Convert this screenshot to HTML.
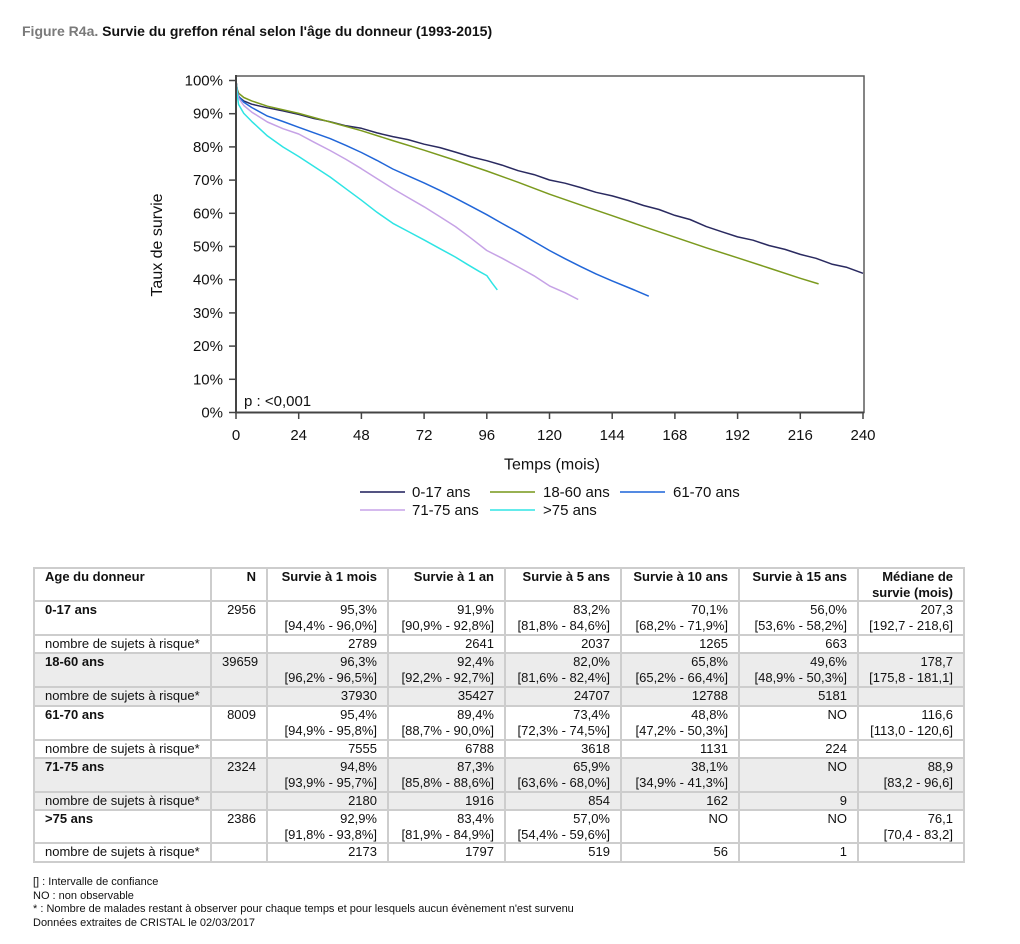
<!DOCTYPE html>
<html><head><meta charset="utf-8">
<style>
html,body{margin:0;padding:0;background:#fff;}
body{width:1020px;height:944px;position:relative;overflow:hidden;font-family:"Liberation Sans",Arial,sans-serif;color:#111;}
.title{position:absolute;left:22px;top:23px;font-size:14px;line-height:17px;font-weight:bold;white-space:nowrap;}
.title .fig{color:#7a7a7a;}
.tbl{position:absolute;left:33px;top:567px;display:grid;
 grid-template-columns:175px 54px 119px 115px 114px 116px 117px 104px;
 grid-template-rows:31px 32px 16px 32px 17px 32px 16px 32px 16px 31px 17px;
 gap:2px;padding:2px;background:#cdcdcd;}
.tbl div{background:#fff;font-size:13px;line-height:16px;padding:0 10px 0 10px;text-align:right;white-space:nowrap;overflow:hidden;}
.tbl div.l{text-align:left;}
.tbl div.b{font-weight:bold;}
.tbl div.g{background:#ececec;}
.notes{position:absolute;left:33px;top:876px;font-size:11px;line-height:13.7px;white-space:nowrap;}
</style></head><body>
<div class="title"><span class="fig">Figure R4a.</span> Survie du greffon rénal selon l'âge du donneur (1993-2015)</div>

<svg width="1020" height="530" style="position:absolute;left:0;top:0" xmlns="http://www.w3.org/2000/svg" font-family="Liberation Sans, Arial, sans-serif">
 <g fill="none" stroke-width="1.5" stroke-linejoin="round">
  <polyline stroke="#2a2a60" points="236,81 237.3,90.9 238.6,96.6 243.8,100.9 251.7,104.2 267.4,107.8 283,110.9 298.7,114.4 314,118.5 330.1,121.7 346,125.8 361.4,128.3 377,132.9 392.8,136.6 408,139.6 424.1,144.2 440,147.6 455.5,152.1 471,156.9 486.8,160.7 502,165.1 518.2,170.7 534,174.6 549.5,180 565,183.2 580.9,187.6 596,192.3 612.2,195.9 628,200.4 643.6,205.5 659,209.5 674.9,215.4 690,219.5 706.3,226.6 722,231.8 737.6,236.9 753,240.2 768.9,245.5 785,249.4 800.3,254.4 816,258.3 831.7,264.1 847,267.4 863,273.3"/>
  <polyline stroke="#7b9a1e" points="236,81 237.3,89.3 238.6,93.2 243.8,97.5 251.7,100.9 267.4,106.2 298.7,113.4 330.1,122 361.4,130.7 392.8,140.6 424.1,150.2 455.5,160.4 486.8,171 518.2,182.3 549.5,194.2 580.9,205.1 612.2,215.7 643.6,226.6 674.9,237.2 706.3,247.8 737.6,257.8 768.9,268 800.3,278.3 818.6,283.9"/>
  <polyline stroke="#2166d8" points="236,81 237.3,90.9 238.6,96.2 243.8,102.2 251.7,107.5 267.4,116.1 283,121.5 298.7,127.3 314,132.8 330.1,138.6 346,145.4 361.4,152.5 377,160.4 392.8,169 408,175.8 424.1,182.9 440,190.4 455.5,198.2 471,206.3 486.8,214.7 502,223.4 518.2,232.3 534,241.5 549.5,250.5 565,258.7 580.9,266.7 596,273.9 612.2,280.9 633.1,289.5 648.8,296.2"/>
  <polyline stroke="#c6a2e6" points="236,81 237.3,92.6 238.6,98.2 243.8,105.5 251.7,112.1 267.4,122 283,128.7 298.7,134 314,142.2 330.1,150.5 346,159.4 361.4,168.7 377,178.6 392.8,188.6 408,197.5 424.1,206.8 440,216.7 455.5,226.6 471,238.2 486.8,250.5 502,258.2 518.2,267 534,275.8 549.5,285.9 565.2,292.8 578.2,299.5"/>
  <polyline stroke="#2ee4e4" points="236,81 237.3,95.9 238.6,104.5 243.8,113.4 251.7,121.4 267.4,135.9 283,147 298.7,156.5 314,166.5 330.1,177 346,188.8 361.4,200.2 377,212.3 392.8,223.3 408,231.4 424.1,239.9 440,248.7 455.5,257.1 467,264.2 479,271.3 486.8,275.6 492,282.9 497.3,289.9"/>
 </g>
 <rect x="236" y="76" width="628" height="336.5" fill="none" stroke="#5c5c5c" stroke-width="1.5"/>
 <line x1="236" y1="75" x2="236" y2="413.5" stroke="#444" stroke-width="2"/>
 <line x1="235" y1="412.5" x2="864" y2="412.5" stroke="#444" stroke-width="2"/>
 <g stroke="#444" stroke-width="1.5">
  <line x1="229" y1="412.5" x2="236" y2="412.5"/>
  <line x1="229" y1="379.3" x2="236" y2="379.3"/>
  <line x1="229" y1="346.1" x2="236" y2="346.1"/>
  <line x1="229" y1="312.9" x2="236" y2="312.9"/>
  <line x1="229" y1="279.7" x2="236" y2="279.7"/>
  <line x1="229" y1="246.5" x2="236" y2="246.5"/>
  <line x1="229" y1="213.3" x2="236" y2="213.3"/>
  <line x1="229" y1="180.1" x2="236" y2="180.1"/>
  <line x1="229" y1="146.9" x2="236" y2="146.9"/>
  <line x1="229" y1="113.7" x2="236" y2="113.7"/>
  <line x1="229" y1="80.5" x2="236" y2="80.5"/>
  <line x1="236" y1="412.5" x2="236" y2="419"/>
  <line x1="298.7" y1="412.5" x2="298.7" y2="419"/>
  <line x1="361.4" y1="412.5" x2="361.4" y2="419"/>
  <line x1="424.1" y1="412.5" x2="424.1" y2="419"/>
  <line x1="486.8" y1="412.5" x2="486.8" y2="419"/>
  <line x1="549.5" y1="412.5" x2="549.5" y2="419"/>
  <line x1="612.2" y1="412.5" x2="612.2" y2="419"/>
  <line x1="674.9" y1="412.5" x2="674.9" y2="419"/>
  <line x1="737.6" y1="412.5" x2="737.6" y2="419"/>
  <line x1="800.3" y1="412.5" x2="800.3" y2="419"/>
  <line x1="863" y1="412.5" x2="863" y2="419"/>
 </g>
 <g font-size="15" fill="#111" text-anchor="end">
  <text x="223" y="417.5">0%</text>
  <text x="223" y="384.3">10%</text>
  <text x="223" y="351.1">20%</text>
  <text x="223" y="317.9">30%</text>
  <text x="223" y="284.7">40%</text>
  <text x="223" y="251.5">50%</text>
  <text x="223" y="218.3">60%</text>
  <text x="223" y="185.1">70%</text>
  <text x="223" y="151.9">80%</text>
  <text x="223" y="118.7">90%</text>
  <text x="223" y="85.5">100%</text>
 </g>
 <g font-size="15" fill="#111" text-anchor="middle">
  <text x="236" y="440">0</text>
  <text x="298.7" y="440">24</text>
  <text x="361.4" y="440">48</text>
  <text x="424.1" y="440">72</text>
  <text x="486.8" y="440">96</text>
  <text x="549.5" y="440">120</text>
  <text x="612.2" y="440">144</text>
  <text x="674.9" y="440">168</text>
  <text x="737.6" y="440">192</text>
  <text x="800.3" y="440">216</text>
  <text x="863" y="440">240</text>
 </g>
 <text x="244" y="406" font-size="15" fill="#111">p : &lt;0,001</text>
 <text x="552" y="469.5" font-size="16" fill="#111" text-anchor="middle">Temps (mois)</text>
 <text transform="translate(162,245) rotate(-90)" font-size="16" fill="#111" text-anchor="middle">Taux de survie</text>
 <g stroke-width="1.8">
  <line x1="360" y1="492" x2="405" y2="492" stroke="#3c3c70"/>
  <line x1="490" y1="492" x2="535" y2="492" stroke="#8aa63a"/>
  <line x1="620" y1="492" x2="665" y2="492" stroke="#3b7ade"/>
  <line x1="360" y1="510" x2="405" y2="510" stroke="#cfb0ec"/>
  <line x1="490" y1="510" x2="535" y2="510" stroke="#4ee8e8"/>
 </g>
 <g font-size="15" fill="#111">
  <text x="412" y="497">0-17 ans</text>
  <text x="543" y="497">18-60 ans</text>
  <text x="673" y="497">61-70 ans</text>
  <text x="412" y="515">71-75 ans</text>
  <text x="543" y="515">&gt;75 ans</text>
 </g>
</svg>

<div class="tbl">
 <div class="l b">Age du donneur</div><div class="b">N</div><div class="b">Survie à 1 mois</div><div class="b">Survie à 1 an</div><div class="b">Survie à 5 ans</div><div class="b">Survie à 10 ans</div><div class="b">Survie à 15 ans</div><div class="b">Médiane de<br>survie (mois)</div>

 <div class="l b">0-17 ans</div><div>2956</div><div>95,3%<br>[94,4% - 96,0%]</div><div>91,9%<br>[90,9% - 92,8%]</div><div>83,2%<br>[81,8% - 84,6%]</div><div>70,1%<br>[68,2% - 71,9%]</div><div>56,0%<br>[53,6% - 58,2%]</div><div>207,3<br>[192,7 - 218,6]</div>
 <div class="l">nombre de sujets à risque*</div><div></div><div>2789</div><div>2641</div><div>2037</div><div>1265</div><div>663</div><div></div>

 <div class="l b g">18-60 ans</div><div class="g">39659</div><div class="g">96,3%<br>[96,2% - 96,5%]</div><div class="g">92,4%<br>[92,2% - 92,7%]</div><div class="g">82,0%<br>[81,6% - 82,4%]</div><div class="g">65,8%<br>[65,2% - 66,4%]</div><div class="g">49,6%<br>[48,9% - 50,3%]</div><div class="g">178,7<br>[175,8 - 181,1]</div>
 <div class="l g">nombre de sujets à risque*</div><div class="g"></div><div class="g">37930</div><div class="g">35427</div><div class="g">24707</div><div class="g">12788</div><div class="g">5181</div><div class="g"></div>

 <div class="l b">61-70 ans</div><div>8009</div><div>95,4%<br>[94,9% - 95,8%]</div><div>89,4%<br>[88,7% - 90,0%]</div><div>73,4%<br>[72,3% - 74,5%]</div><div>48,8%<br>[47,2% - 50,3%]</div><div>NO</div><div>116,6<br>[113,0 - 120,6]</div>
 <div class="l">nombre de sujets à risque*</div><div></div><div>7555</div><div>6788</div><div>3618</div><div>1131</div><div>224</div><div></div>

 <div class="l b g">71-75 ans</div><div class="g">2324</div><div class="g">94,8%<br>[93,9% - 95,7%]</div><div class="g">87,3%<br>[85,8% - 88,6%]</div><div class="g">65,9%<br>[63,6% - 68,0%]</div><div class="g">38,1%<br>[34,9% - 41,3%]</div><div class="g">NO</div><div class="g">88,9<br>[83,2 - 96,6]</div>
 <div class="l g">nombre de sujets à risque*</div><div class="g"></div><div class="g">2180</div><div class="g">1916</div><div class="g">854</div><div class="g">162</div><div class="g">9</div><div class="g"></div>

 <div class="l b">&gt;75 ans</div><div>2386</div><div>92,9%<br>[91,8% - 93,8%]</div><div>83,4%<br>[81,9% - 84,9%]</div><div>57,0%<br>[54,4% - 59,6%]</div><div>NO</div><div>NO</div><div>76,1<br>[70,4 - 83,2]</div>
 <div class="l">nombre de sujets à risque*</div><div></div><div>2173</div><div>1797</div><div>519</div><div>56</div><div>1</div><div></div>
</div>

<div class="notes">[] : Intervalle de confiance<br>NO : non observable<br>* : Nombre de malades restant à observer pour chaque temps et pour lesquels aucun évènement n'est survenu<br>Données extraites de CRISTAL le 02/03/2017</div>
</body></html>
